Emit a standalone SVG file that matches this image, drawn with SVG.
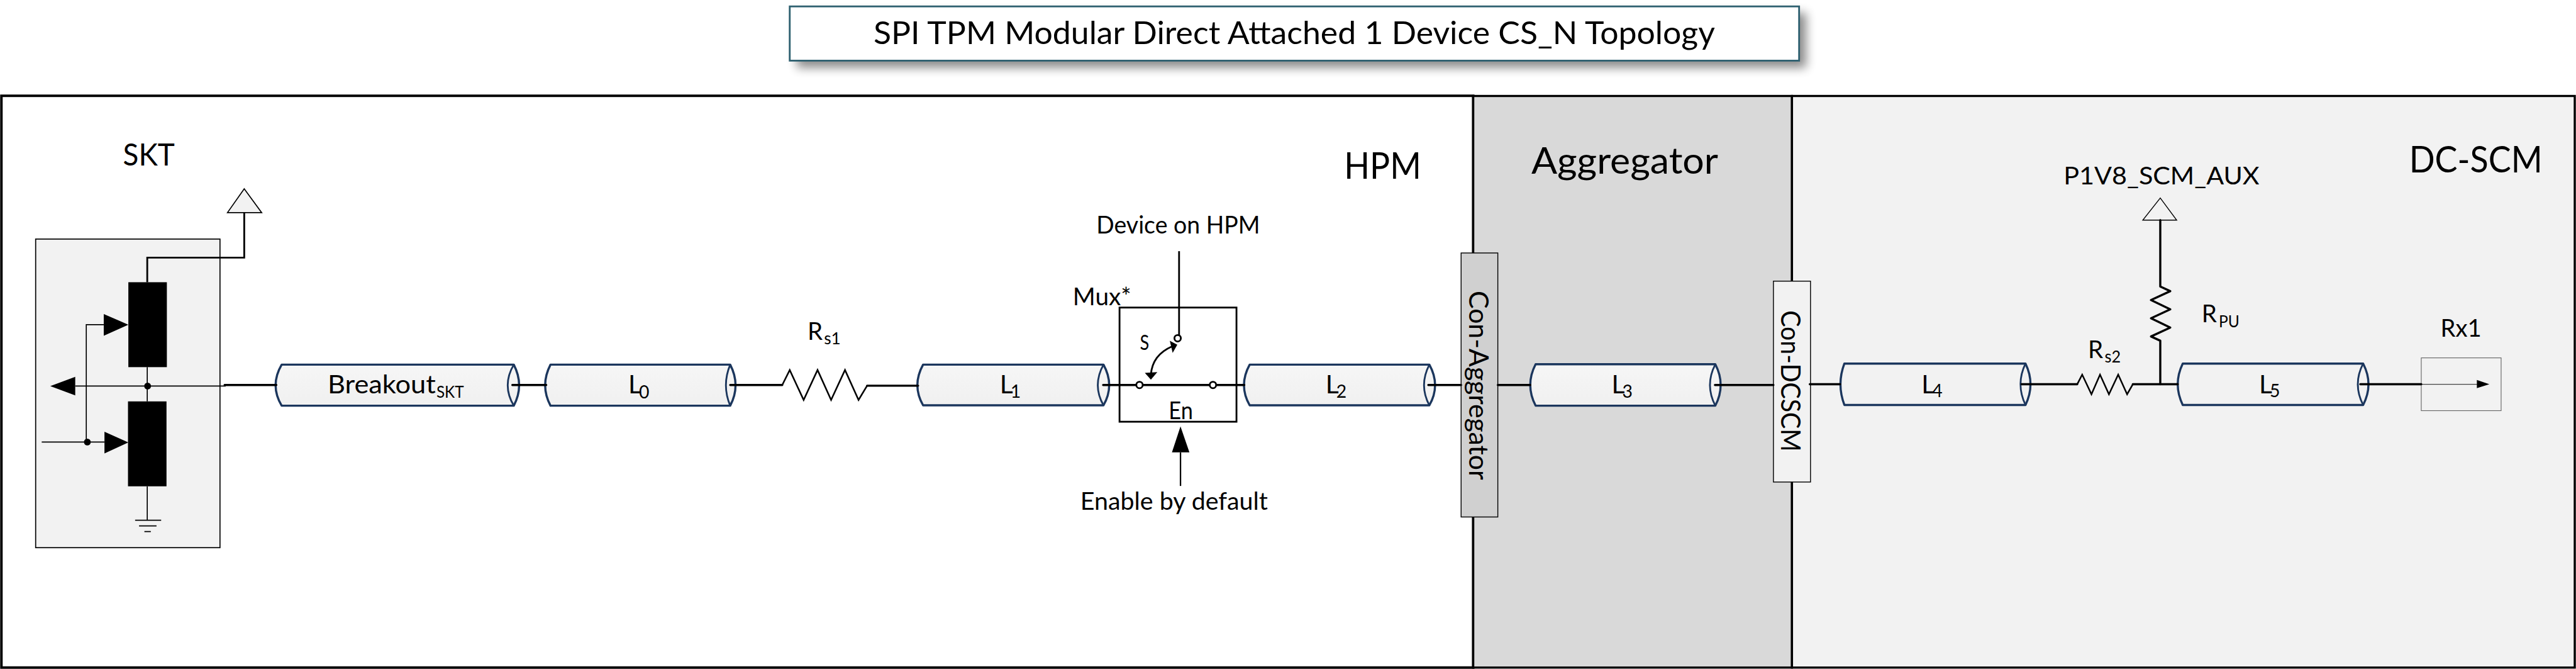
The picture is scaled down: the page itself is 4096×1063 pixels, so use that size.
<svg xmlns="http://www.w3.org/2000/svg" width="4096" height="1063" viewBox="0 0 4096 1063">
<style>
text{font-family:"Lato","Carlito","Liberation Sans",sans-serif;fill:#000}
.w{fill:none;stroke:#000;stroke-width:6;stroke-linecap:round;stroke-linejoin:round}
.z{fill:none;stroke:#000;stroke-width:4.5;stroke-linejoin:miter}
.t{fill:none;stroke:#000;stroke-width:3}
.b{fill:#000;stroke:none}
.cb{fill:url(#cg);stroke:#1b365d;stroke-width:6;stroke-linejoin:round}
.ce{fill:none;stroke:#1b365d;stroke-width:5}
.m{font-size:68px}.s{font-size:48px}
.l{font-size:72px}.ls{font-size:50px}
.h{font-size:103px}
</style>
<defs>
<linearGradient id="cg" x1="0" y1="0" x2="0" y2="1"><stop offset="0" stop-color="#f6f6f6"/><stop offset="1" stop-color="#f0f0f0"/></linearGradient>
<filter id="sh" x="-3%" y="-30%" width="106%" height="170%"><feGaussianBlur stdDeviation="14"/></filter>
</defs>
<g transform="scale(0.56692)">
<g id="regions">
<rect x="4" y="268.500" width="4128" height="1602.500" fill="#fff" stroke="#000" stroke-width="7"/>
<rect x="4132" y="269" width="894" height="1602" fill="#d9d9d9" stroke="#000" stroke-width="6"/>
<rect x="5026" y="269" width="2195.500" height="1602" fill="#f2f2f2" stroke="#000" stroke-width="6"/>
<text x="3770" y="501" class="h" textLength="216" lengthAdjust="spacingAndGlyphs">HPM</text>
<text x="4295" y="487" class="h" textLength="524" lengthAdjust="spacingAndGlyphs">Aggregator</text>
<text x="6757" y="483" class="h" textLength="374" lengthAdjust="spacingAndGlyphs">DC-SCM</text>
</g>
<g id="title">
<rect x="2235" y="36" width="2831" height="154" fill="#000" opacity=".45" filter="url(#sh)"/>
<rect x="2215" y="18" width="2831" height="152" fill="#fff" stroke="#2e6070" stroke-width="5"/>
<text x="2450" y="123" font-size="90" textLength="2360" lengthAdjust="spacingAndGlyphs">SPI TPM Modular Direct Attached 1 Device CS_N Topology</text>
</g>
<g id="skt">
<rect x="100" y="670" width="517" height="865" fill="#f2f2f2" stroke="#000" stroke-width="3"/>
<text x="345" y="464" font-size="86" textLength="145" lengthAdjust="spacingAndGlyphs">SKT</text>
<rect class="b" x="360" y="791" width="108" height="238"/>
<rect class="b" x="359" y="1125" width="108" height="238"/>
<path class="t" d="M413 1029V1125M413 1363V1458M379 1458H452M390 1474H439M405 1490H423M211 1082H633M242 1239V910H291M117 1239H293"/>
<path class="b" d="M141 1082L211 1056V1108ZM360 910L291 880V941ZM360 1240L293 1210V1271Z"/>
<circle class="b" cx="414" cy="1082" r="9.500"/>
<circle class="b" cx="245" cy="1239" r="9.500"/>
<path d="M413 791V722H685V596" fill="none" stroke="#000" stroke-width="5"/>
<path d="M685 529L734 596H638Z" fill="#f2f2f2" stroke="#000" stroke-width="3"/>
</g>
<g id="breakout"><path class="cb" d="M790 1022H1441Q1471 1080 1441 1137H790Q756 1080 790 1022Z"/><path class="ce" d="M1441 1022Q1407 1080 1441 1137"/>
<text x="919" y="1103" class="l" textLength="303" lengthAdjust="spacingAndGlyphs">Breakout</text><text x="1224" y="1115" class="s" textLength="77" lengthAdjust="spacingAndGlyphs">SKT</text></g>
<g id="l0"><path class="cb" d="M1544 1022H2048Q2078 1080 2048 1137H1544Q1514 1080 1544 1022Z"/><path class="ce" d="M2048 1022Q2024 1080 2048 1137"/>
<text x="1762" y="1103" class="l">L</text><text x="1792" y="1116" class="ls">0</text></g>
<g id="rs1"><text x="2265" y="952" class="m">R</text><text x="2311" y="964" class="s" textLength="47" lengthAdjust="spacingAndGlyphs">s1</text></g>
<g id="l1"><path class="cb" d="M2589 1022H3095Q3127 1080 3095 1136H2589Q2557 1080 2589 1022Z"/><path class="ce" d="M3095 1022Q3063 1080 3095 1136"/>
<text x="2804" y="1103" class="l">L</text><text x="2834" y="1115" class="ls">1</text></g>
<g id="l2"><path class="cb" d="M3505 1022H4009Q4041 1080 4009 1136H3505Q3473 1080 3505 1022Z"/><path class="ce" d="M4009 1022Q3979 1080 4009 1136"/>
<text x="3718" y="1103" class="l">L</text><text x="3748" y="1115" class="ls">2</text></g>
<g id="con-aggregator"><rect x="4098" y="709" width="103" height="740" fill="#d0d0d0" stroke="#000" stroke-width="2.500"/>
<text transform="translate(4120 815) rotate(90)" font-size="76" textLength="530" lengthAdjust="spacingAndGlyphs">Con-Aggregator</text></g>
<g id="l3"><path class="cb" d="M4307 1021H4811Q4841 1079 4811 1137H4307Q4277 1079 4307 1021Z"/><path class="ce" d="M4811 1021Q4781 1079 4811 1137"/>
<text x="4520" y="1103" class="l">L</text><text x="4550" y="1114" class="ls">3</text></g>
<g id="con-dcscm"><rect x="4974" y="788" width="104" height="563" fill="#f2f2f2" stroke="#000" stroke-width="2.500"/>
<text transform="translate(4995 870) rotate(90)" font-size="76" textLength="396" lengthAdjust="spacingAndGlyphs">Con-DCSCM</text></g>
<g id="l4"><path class="cb" d="M5173 1019H5681Q5709 1077 5681 1135H5173Q5151 1077 5173 1019Z" style="fill:#f2f2f2"/><path class="ce" d="M5681 1019Q5653 1077 5681 1135"/>
<text x="5389" y="1102" class="l">L</text><text x="5419" y="1113" class="ls">4</text></g>
<g id="rs2"><path class="z" d="M5826 1077L5840 1050L5866 1105L5890 1050L5915 1105L5941 1050L5966 1105L5982 1077"/>
<text x="5856" y="1003" class="m">R</text><text x="5903" y="1016" class="s" textLength="45" lengthAdjust="spacingAndGlyphs">s2</text></g>
<g id="rpu"><path class="w" d="M6059 1077V955L6033 943L6087 918L6033 892L6087 867L6033 841L6087 816L6059 803V617"/>
<path d="M6059 555L6105 617H6010Z" fill="none" stroke="#000" stroke-width="2.500"/>
<text x="6175" y="904" class="m">R</text><text x="6223" y="917" class="s" textLength="58" lengthAdjust="spacingAndGlyphs">PU</text>
<text x="5788" y="517" class="m" textLength="549" lengthAdjust="spacingAndGlyphs">P1V8_SCM_AUX</text></g>
<g id="l5"><path class="cb" d="M6122 1019H6628Q6658 1077 6628 1135H6122Q6094 1077 6122 1019Z" style="fill:#f2f2f2"/><path class="ce" d="M6628 1019Q6598 1077 6628 1135"/>
<text x="6336" y="1102" class="l">L</text><text x="6366" y="1113" class="ls">5</text></g>
<g id="rx1"><rect x="6791" y="1003" width="224" height="148" fill="#f2f2f2" stroke="#666" stroke-width="2"/>
<path d="M6791 1077H6950" stroke="#444" stroke-width="2" fill="none"/><path class="b" d="M6982 1077L6947 1065V1088Z"/>
<text x="6845" y="943" class="m" textLength="115" lengthAdjust="spacingAndGlyphs">Rx1</text></g>
<g id="connectors">
<path class="w" d="M630 1079H775M1437 1079H1532M2048 1079H2194M2432 1081H2575M3094 1079H3490M4006 1079H4098M4201 1079H4292M4810 1079H4974M5076 1077H5161M5670 1077H5826M5982 1077H6108M6620 1077H6791"/>
<path class="z" d="M2194 1079L2215 1037L2254 1121L2293 1037L2331 1121L2370 1037L2408 1121L2432 1081"/>
</g>
<g id="mux">
<rect x="3140" y="862" width="328" height="320" fill="none" stroke="#000" stroke-width="5"/>
<path d="M3307 704V940" fill="none" stroke="#000" stroke-width="5"/>
<circle cx="3303" cy="948" r="9" fill="#fff" stroke="#000" stroke-width="5"/>
<circle cx="3196" cy="1079" r="9" fill="#fff" stroke="#000" stroke-width="5"/>
<circle cx="3402" cy="1079" r="9" fill="#fff" stroke="#000" stroke-width="5"/>
<path d="M3287 971Q3232 995 3228 1050" fill="none" stroke="#000" stroke-width="5"/>
<path class="b" d="M3302 966L3289 989L3281 955ZM3228 1064L3211 1045L3246 1043Z"/>
<text x="3197" y="981" font-size="58" textLength="26" lengthAdjust="spacingAndGlyphs">S</text>
<text x="3278" y="1175" class="m" textLength="68" lengthAdjust="spacingAndGlyphs">En</text>
<text x="3009" y="855" class="m" textLength="164" lengthAdjust="spacingAndGlyphs">Mux*</text>
<text x="3075" y="655" class="m" textLength="459" lengthAdjust="spacingAndGlyphs">Device on HPM</text>
<path class="b" d="M3311 1195L3336 1268H3287Z"/><path d="M3311 1268V1362" fill="none" stroke="#000" stroke-width="4"/>
<text x="3030" y="1428" class="m" textLength="526" lengthAdjust="spacingAndGlyphs">Enable by default</text>
</g>
</g>
</svg>
